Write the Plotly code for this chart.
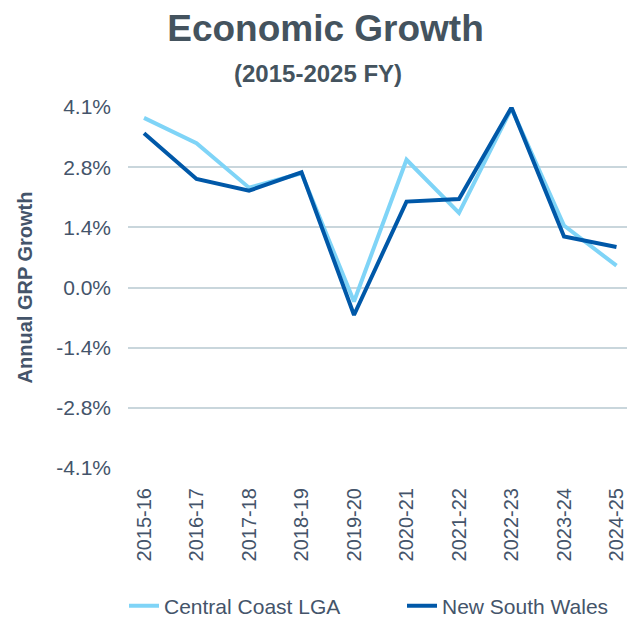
import plotly.graph_objects as go

# Data
years = ['2015-16', '2016-17', '2017-18', '2018-19', '2019-20',
         '2020-21', '2021-22', '2022-23', '2023-24', '2024-25']
central_coast = [3.89, 3.31, 2.29, 2.62, -0.32, 2.93, 1.71, 4.11, 1.42, 0.50]
nsw = [3.54, 2.49, 2.22, 2.64, -0.63, 1.97, 2.03, 4.13, 1.17, 0.93]
tick_vals = [4.14, 2.76, 1.38, 0.0, -1.38, -2.76, -4.14]
tick_text = ['4.1%', '2.8%', '1.4%', '0.0%', '-1.4%', '-2.8%', '-4.1%']

text_col = '#44546a'
font_name = 'Liberation Sans, Arial, sans-serif'

fig = go.Figure()
fig.add_trace(go.Scatter(x=years, y=central_coast, mode='lines', name='Central Coast LGA',
                         line=dict(color='#7fd4f7', width=4), legend='legend'))
fig.add_trace(go.Scatter(x=years, y=nsw, mode='lines', name='New South Wales',
                         line=dict(color='#0058a8', width=4), legend='legend2'))

# page body has an 8px margin, so figure coords are screen coords minus 8
leg_y = 1 - 598 / 622
fig.update_layout(
    width=635, height=622,
    paper_bgcolor='white', plot_bgcolor='white',
    font=dict(family=font_name, color=text_col, size=20),
    margin=dict(l=120, r=16, t=99, b=162),
    title=dict(text='<b>Economic Growth</b>', x=0.5, xanchor='center',
               y=1 - 20 / 622, yanchor='middle', yref='container',
               font=dict(size=37, color='#44535e')),
    annotations=[dict(text='<b>(2015-2025 FY)</b>', xref='paper', yref='paper',
                      x=(318 - 128) / 499, y=1 + (107 - 73) / 361,
                      showarrow=False, xanchor='center', yanchor='middle',
                      font=dict(size=24, color='#44535e'))],
    legend=dict(orientation='h', x=116 / 635, xref='container', xanchor='left',
                y=leg_y, yref='container', yanchor='middle', font=dict(size=21)),
    legend2=dict(orientation='h', x=394 / 635, xref='container', xanchor='left',
                 y=leg_y, yref='container', yanchor='middle', font=dict(size=21)),
    showlegend=True,
)

fig.update_xaxes(type='category', range=[-0.305, 9.2], tickangle=-90,
                 showgrid=False, showline=False, ticks='', ticklabelstandoff=15,
                 tickfont=dict(size=20), automargin=False)
fig.update_yaxes(range=[-4.14, 4.14], tickvals=tick_vals, ticktext=tick_text,
                 showgrid=True, gridcolor='#c9d6dc', gridwidth=1.5,
                 zeroline=True, zerolinecolor='#c9d6dc', zerolinewidth=1.5,
                 ticks='', ticklabelstandoff=16, automargin=False,
                 tickfont=dict(size=21),
                 title=dict(text='<b>Annual GRP Growth</b>', font=dict(size=20), standoff=18))

fig.write_html("out.html")
